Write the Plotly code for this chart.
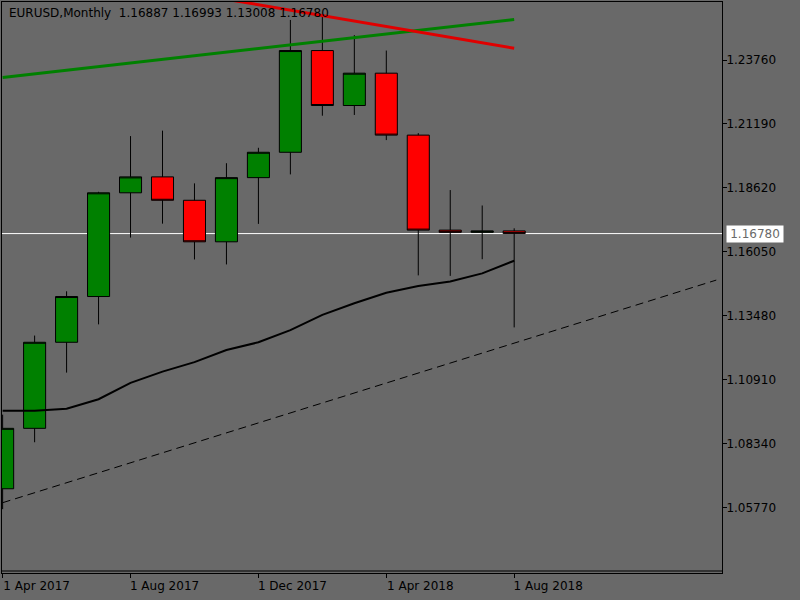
"""EURUSD monthly candles, MetaTrader-style chart."""

import plotly.graph_objects as go

# ── data ──────────────────────────────────────────────────────────────────────
months = [
    "2017-04", "2017-05", "2017-06", "2017-07", "2017-08", "2017-09",
    "2017-10", "2017-11", "2017-12", "2018-01", "2018-02", "2018-03",
    "2018-04", "2018-05", "2018-06", "2018-07", "2018-08",
]
opens = [1.0652, 1.0895, 1.1241, 1.1425, 1.1842, 1.1906, 1.1812, 1.1645, 1.1903,
         1.2005, 1.2414, 1.2193, 1.2323, 1.2074, 1.1692, 1.1683, 1.16887]
highs = [1.0950, 1.1268, 1.1446, 1.1846, 1.2070, 1.2092, 1.1880, 1.1961, 1.2023,
         1.2537, 1.2556, 1.2476, 1.2414, 1.2082, 1.1853, 1.1791, 1.16993]
lows = [1.0570, 1.0839, 1.1119, 1.1313, 1.1662, 1.1718, 1.1574, 1.1554, 1.1717,
        1.1916, 1.2152, 1.2155, 1.2054, 1.1510, 1.1508, 1.1575, 1.13008]
closes = [1.0895, 1.1241, 1.1425, 1.1842, 1.1906, 1.1812, 1.1645, 1.1903, 1.2005,
          1.2414, 1.2193, 1.2323, 1.2074, 1.1692, 1.1683, 1.16887, 1.16780]
moving_avg = [1.0966, 1.0966, 1.0974, 1.1012, 1.1078, 1.1123, 1.1161, 1.1210, 1.1241,
              1.1290, 1.1351, 1.1398, 1.1440, 1.1467, 1.1485, 1.1518, 1.1569]

# trend lines: (bar index, price) anchors
green_line_x = [0, 16]
green_line_y = [1.2306, 1.2539]
red_line_x = [7, 16]
red_line_y = [1.2620, 1.2423]
dash_line_x = [0, 22.32]
dash_line_y = [1.0596, 1.1491]

last_price = 1.16780
header = "EURUSD,Monthly\u00a0\u00a01.16887\u00a01.16993\u00a01.13008\u00a01.16780"

price_ticks = [1.0577, 1.0834, 1.1091, 1.1348, 1.1605, 1.1862, 1.2119, 1.2376]
date_tick_idx = [0, 4, 8, 12, 16]
date_tick_text = ["1 Apr 2017", "1 Aug 2017", "1 Dec 2017", "1 Apr 2018", "1 Aug 2018"]

_BG = "#696969"
_FONT = dict(family="DejaVu Sans", size=12, color="black")

bar_x = list(range(len(months)))

fig = go.Figure()

fig.add_trace(go.Scatter(
    x=dash_line_x, y=dash_line_y, mode="lines",
    line=dict(color="black", width=1, dash="8px,5px"), hoverinfo="skip",
))
fig.add_trace(go.Candlestick(
    x=bar_x, open=opens, high=highs, low=lows, close=closes,
    text=months,
    increasing=dict(fillcolor="#008000", line=dict(color="black", width=1)),
    decreasing=dict(fillcolor="#FF0000", line=dict(color="black", width=1)),
))
fig.add_trace(go.Scatter(
    x=bar_x, y=moving_avg, mode="lines",
    line=dict(color="black", width=2), hoverinfo="skip",
))
fig.add_trace(go.Scatter(
    x=green_line_x, y=green_line_y, mode="lines",
    line=dict(color="#008000", width=3), hoverinfo="skip",
))
fig.add_trace(go.Scatter(
    x=red_line_x, y=red_line_y, mode="lines",
    line=dict(color="#E00000", width=3), hoverinfo="skip",
))

# current price line + label
fig.add_shape(
    type="line", xref="paper", x0=0, x1=1, yref="y", y0=last_price, y1=last_price,
    line=dict(color="white", width=1), layer="below",
)
fig.add_annotation(
    xref="paper", x=1, xanchor="left", xshift=4, yref="y", y=last_price,
    text=f"{last_price:.5f}", showarrow=False, bgcolor="white",
    font=dict(family="DejaVu Sans", size=12, color=_BG), width=54, borderpad=1,
)
fig.add_annotation(
    xref="paper", x=0, xanchor="left", xshift=5, yref="paper", y=1, yanchor="middle",
    yshift=-11, text=header, showarrow=False, font=_FONT,
)
# inner frame line just above the time axis
fig.add_shape(
    type="line", xref="paper", x0=0, x1=1, yref="paper", y0=0.0035, y1=0.0035,
    line=dict(color="black", width=1),
)

fig.update_layout(
    width=800, height=600,
    margin=dict(l=2, r=78, t=2, b=27),
    paper_bgcolor=_BG, plot_bgcolor=_BG,
    showlegend=False, font=_FONT,
    boxgap=0.31, boxgroupgap=0,
    xaxis=dict(
        range=[-0.02, 22.5], tickmode="array", tickvals=date_tick_idx,
        ticktext=date_tick_text, ticks="outside", ticklen=4, tickcolor="black",
        showline=True, linecolor="black", linewidth=1, mirror=True,
        showgrid=False, zeroline=False, rangeslider=dict(visible=False),
        ticklabelshift=34, ticklabelstandoff=-2, tickfont=_FONT,
    ),
    yaxis=dict(
        side="right", range=[1.03133, 1.26092], tickmode="array",
        tickvals=price_ticks, ticktext=[f"{v:.5f}" for v in price_ticks],
        ticks="outside", ticklen=4, tickcolor="black",
        showline=True, linecolor="black", linewidth=1, mirror=True,
        showgrid=False, zeroline=False, ticklabelstandoff=-3, tickfont=_FONT,
    ),
)

fig.write_html(
    "out.html",
    config={"displayModeBar": False},
    post_script="document.body.style.margin='0';document.body.style.background='#696969';",
)
